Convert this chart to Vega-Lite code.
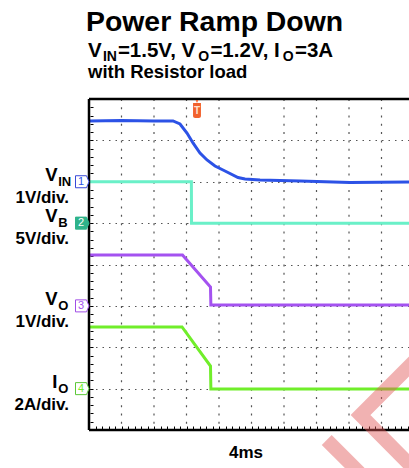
{
  "$schema": "https://vega.github.io/schema/vega-lite/v6.json",
  "width": 320,
  "height": 331,
  "autosize": {"type": "none"},
  "padding": {"left": 89, "top": 99, "right": 0, "bottom": 38},
  "background": "white",
  "config": {"view": {"stroke": null}, "font": "Liberation Sans", "text": {"font": "Liberation Sans"}},
  "data": {"values": [{}]},
  "datasets": {
    "traces": [
      {"ch": "1", "t": 0, "v": 7.47}, {"ch": "1", "t": 1, "v": 7.48}, {"ch": "1", "t": 2, "v": 7.47},
      {"ch": "1", "t": 2.585, "v": 7.47}, {"ch": "1", "t": 2.8, "v": 7.396}, {"ch": "1", "t": 3.015, "v": 7.178},
      {"ch": "1", "t": 3.2, "v": 6.937}, {"ch": "1", "t": 3.415, "v": 6.695}, {"ch": "1", "t": 3.631, "v": 6.526},
      {"ch": "1", "t": 3.877, "v": 6.381}, {"ch": "1", "t": 4.185, "v": 6.26}, {"ch": "1", "t": 4.585, "v": 6.103},
      {"ch": "1", "t": 4.8, "v": 6.066}, {"ch": "1", "t": 5.262, "v": 6.042}, {"ch": "1", "t": 6.492, "v": 6.018},
      {"ch": "1", "t": 8.031, "v": 5.982}, {"ch": "1", "t": 9.846, "v": 5.994},
      {"ch": "2", "t": 0, "v": 6.0}, {"ch": "2", "t": 3.15, "v": 6.0}, {"ch": "2", "t": 3.155, "v": 5.0}, {"ch": "2", "t": 9.846, "v": 5.0},
      {"ch": "3", "t": 0, "v": 4.23}, {"ch": "3", "t": 2.877, "v": 4.23}, {"ch": "3", "t": 3.738, "v": 3.456}, {"ch": "3", "t": 3.75, "v": 3.02}, {"ch": "3", "t": 9.846, "v": 3.02},
      {"ch": "4", "t": 0, "v": 2.49}, {"ch": "4", "t": 2.862, "v": 2.49}, {"ch": "4", "t": 3.738, "v": 1.547}, {"ch": "4", "t": 3.75, "v": 0.99}, {"ch": "4", "t": 9.846, "v": 0.99}
    ],
    "channels": [
      {"ch": "1", "name": "V", "sub": "IN", "perdiv": "1V/div.", "ground": 6},
      {"ch": "2", "name": "V", "sub": "B", "perdiv": "5V/div.", "ground": 5},
      {"ch": "3", "name": "V", "sub": "O", "perdiv": "1V/div.", "ground": 3},
      {"ch": "4", "name": "I", "sub": "O", "perdiv": "2A/div.", "ground": 1}
    ],
    "watermark": [
      {"part": "a", "i": 0, "t": 10.492, "v": 2.042},
      {"part": "a", "i": 1, "t": 8.354, "v": 0.3625},
      {"part": "a", "i": 2, "t": 10.185, "v": -1.088},
      {"part": "b", "i": 0, "t": 7.314, "v": -0.2417},
      {"part": "b", "i": 1, "t": 8.8, "v": -1.409}
    ]
  },
  "resolve": {"axis": {"x": "independent", "y": "independent"}},
  "layer": [
    {
      "data": {"name": "traces"},
      "mark": {"type": "line", "opacity": 0},
      "encoding": {
        "x": {
          "field": "t", "type": "quantitative", "title": null,
          "scale": {"domain": [0, 9.846], "nice": false, "zero": false},
          "axis": null
        },
        "y": {
          "field": "v", "type": "quantitative", "title": null,
          "scale": {"domain": [0, 8], "nice": false, "zero": false},
          "axis": {
            "orient": "right", "values": [0, 1, 2, 3, 4, 5, 6, 7, 8],
            "labels": false, "title": null, "domain": false, "ticks": false,
            "grid": true, "gridColor": "#555555", "gridWidth": 1, "gridDash": [1.5, 5], "gridOpacity": 1
          }
        },
        "detail": {"field": "ch", "type": "nominal"}
      }
    },
    {"mark": {"type": "rule", "color": "#555555", "strokeWidth": 1.2, "strokeDash": [2, 6.275]}, "encoding": {"x": {"datum": 1, "axis": null}}},
    {"mark": {"type": "rule", "color": "#555555", "strokeWidth": 1.2, "strokeDash": [2, 6.275]}, "encoding": {"x": {"datum": 2, "axis": null}}},
    {"mark": {"type": "rule", "color": "#555555", "strokeWidth": 1.2, "strokeDash": [2, 6.275]}, "encoding": {"x": {"datum": 3, "axis": null}}},
    {"mark": {"type": "rule", "color": "#555555", "strokeWidth": 1.2, "strokeDash": [2, 6.275]}, "encoding": {"x": {"datum": 4, "axis": null}}},
    {"mark": {"type": "rule", "color": "#555555", "strokeWidth": 1.2, "strokeDash": [2, 6.275]}, "encoding": {"x": {"datum": 5, "axis": null}}},
    {"mark": {"type": "rule", "color": "#555555", "strokeWidth": 1.2, "strokeDash": [2, 6.275]}, "encoding": {"x": {"datum": 6, "axis": null}}},
    {"mark": {"type": "rule", "color": "#555555", "strokeWidth": 1.2, "strokeDash": [2, 6.275]}, "encoding": {"x": {"datum": 7, "axis": null}}},
    {"mark": {"type": "rule", "color": "#555555", "strokeWidth": 1.2, "strokeDash": [2, 6.275]}, "encoding": {"x": {"datum": 8, "axis": null}}},
    {"mark": {"type": "rule", "color": "#555555", "strokeWidth": 1.2, "strokeDash": [2, 6.275]}, "encoding": {"x": {"datum": 9, "axis": null}}},
    {
      "data": {"name": "traces"},
      "mark": {"type": "line", "strokeWidth": 3},
      "encoding": {
        "x": {
          "field": "t", "type": "quantitative", "title": null,
          "axis": {
            "orient": "bottom",
            "values": [0.2,0.4,0.6,0.8,1,1.2,1.4,1.6,1.8,2,2.2,2.4,2.6,2.8,3,3.2,3.4,3.6,3.8,4,4.2,4.4,4.6,4.8,5,5.2,5.4,5.6,5.8,6,6.2,6.4,6.6,6.8,7,7.2,7.4,7.6,7.8,8,8.2,8.4,8.6,8.8,9,9.2,9.4,9.6,9.8],
            "labels": false, "title": null, "domain": false, "grid": false,
            "ticks": true, "tickColor": "#000000", "tickSize": 3, "tickWidth": 1, "offset": -4
          }
        },
        "y": {
          "field": "v", "type": "quantitative", "title": null,
          "axis": {
            "orient": "left",
            "values": [0.2,0.4,0.6,0.8,1,1.2,1.4,1.6,1.8,2,2.2,2.4,2.6,2.8,3,3.2,3.4,3.6,3.8,4,4.2,4.4,4.6,4.8,5,5.2,5.4,5.6,5.8,6,6.2,6.4,6.6,6.8,7,7.2,7.4,7.6,7.8],
            "labels": false, "title": null, "domain": false, "grid": false,
            "ticks": true, "tickColor": "#000000", "tickSize": 3, "tickWidth": 1, "offset": -4
          }
        },
        "color": {
          "field": "ch", "type": "nominal", "legend": null,
          "scale": {"domain": ["1", "2", "3", "4"], "range": ["#2c52e6", "#6af0c8", "#a452f0", "#70ee2a"]}
        }
      }
    },
    {
      "mark": {"type": "rule", "color": "#000000", "strokeWidth": 2.5},
      "encoding": {"y": {"datum": 8, "axis": null}}
    },
    {
      "mark": {"type": "rule", "color": "#000000", "strokeWidth": 2.5},
      "encoding": {"y": {"datum": 0, "axis": null}}
    },
    {
      "mark": {"type": "rule", "color": "#000000", "strokeWidth": 2.5},
      "encoding": {"x": {"datum": 0, "axis": null}}
    },
    {
      "data": {"name": "channels"},
      "mark": {"type": "point", "shape": "M-1,-0.89L0.63,-0.89L1,0L0.63,0.89L-1,0.89Z", "size": 182, "strokeWidth": 1, "opacity": 1, "filled": false},
      "encoding": {
        "x": {"datum": -0.2077, "axis": null},
        "y": {"field": "ground", "type": "quantitative", "title": null, "axis": null},
        "stroke": {"field": "ch", "type": "nominal", "legend": null,
          "scale": {"domain": ["1", "2", "3", "4"], "range": ["#3848d8", "#2fb38a", "#a04ee6", "#5cc838"]}},
        "fill": {"condition": {"test": "datum.ch === '2'", "value": "#2fb38a"}, "value": "#ffffff"}
      }
    },
    {
      "data": {"name": "channels"},
      "mark": {"type": "text", "fontSize": 11, "align": "center", "baseline": "middle"},
      "encoding": {
        "x": {"datum": -0.246, "axis": null},
        "y": {"field": "ground", "type": "quantitative", "title": null, "axis": null},
        "text": {"field": "ch"},
        "color": {"condition": {"test": "datum.ch === '2'", "value": "#ffffff"}, "field": "ch", "type": "nominal", "legend": null}
      }
    },
    {
      "data": {"name": "channels"},
      "mark": {"type": "text", "fontSize": 18.5, "fontWeight": "bold", "align": "right", "baseline": "alphabetic", "dx": -31.5, "dy": -1, "color": "#000000"},
      "encoding": {
        "x": {"datum": 0, "axis": null},
        "y": {"field": "ground", "type": "quantitative", "title": null, "axis": null},
        "text": {"field": "name"}
      }
    },
    {
      "data": {"name": "channels"},
      "mark": {"type": "text", "fontSize": 13, "fontWeight": "bold", "align": "left", "baseline": "alphabetic", "dx": -30.8, "dy": 4, "color": "#000000"},
      "encoding": {
        "x": {"datum": 0, "axis": null},
        "y": {"field": "ground", "type": "quantitative", "title": null, "axis": null},
        "text": {"field": "sub"}
      }
    },
    {
      "data": {"name": "channels"},
      "mark": {"type": "text", "fontSize": 17, "fontWeight": "bold", "align": "right", "baseline": "alphabetic", "dx": -20, "dy": 21, "color": "#000000"},
      "encoding": {
        "x": {"datum": 0, "axis": null},
        "y": {"field": "ground", "type": "quantitative", "title": null, "axis": null},
        "text": {"field": "perdiv"}
      }
    },
    {
      "mark": {"type": "point", "shape": "M-0.44,-0.67L0.44,-0.67L0.44,0.8Q0.44,1 0.2,1L-0.2,1Q-0.44,1 -0.44,0.8Z M-0.15,-1L0.15,-1L0,-0.67Z", "size": 324, "filled": true, "opacity": 1, "color": "#f2622e", "strokeWidth": 0},
      "encoding": {"x": {"datum": 3.323, "axis": null}, "y": {"datum": 7.758, "axis": null}}
    },
    {
      "mark": {"type": "text", "text": "T", "fontSize": 10, "fontWeight": "bold", "align": "center", "baseline": "middle", "color": "#ffe0d0"},
      "encoding": {"x": {"datum": 3.323, "axis": null}, "y": {"datum": 7.71, "axis": null}}
    },
    {
      "mark": {"type": "text", "text": "Power Ramp Down", "fontSize": 28.4, "fontWeight": "bold", "align": "left", "baseline": "alphabetic", "color": "#000000"},
      "encoding": {"x": {"datum": -0.092, "axis": null}, "y": {"datum": 9.632, "axis": null}}
    },
    {
      "mark": {"type": "text", "text": "V", "fontSize": 20.5, "fontWeight": "bold", "align": "left", "baseline": "alphabetic", "color": "#000000"},
      "encoding": {"x": {"datum": -0.0308, "axis": null}, "y": {"datum": 9.015, "axis": null}}
    },
    {
      "mark": {"type": "text", "text": "IN", "fontSize": 14, "fontWeight": "bold", "align": "left", "baseline": "alphabetic", "color": "#000000"},
      "encoding": {"x": {"datum": 0.4277, "axis": null}, "y": {"datum": 8.918, "axis": null}}
    },
    {
      "mark": {"type": "text", "text": "=1.5V, V", "fontSize": 20.5, "fontWeight": "bold", "align": "left", "baseline": "alphabetic", "color": "#000000"},
      "encoding": {"x": {"datum": 0.8892, "axis": null}, "y": {"datum": 9.015, "axis": null}}
    },
    {
      "mark": {"type": "text", "text": "O", "fontSize": 14, "fontWeight": "bold", "align": "left", "baseline": "alphabetic", "color": "#000000"},
      "encoding": {"x": {"datum": 3.3631, "axis": null}, "y": {"datum": 8.918, "axis": null}}
    },
    {
      "mark": {"type": "text", "text": "=1.2V, I", "fontSize": 20.5, "fontWeight": "bold", "align": "left", "baseline": "alphabetic", "color": "#000000"},
      "encoding": {"x": {"datum": 3.7354, "axis": null}, "y": {"datum": 9.015, "axis": null}}
    },
    {
      "mark": {"type": "text", "text": "O", "fontSize": 14, "fontWeight": "bold", "align": "left", "baseline": "alphabetic", "color": "#000000"},
      "encoding": {"x": {"datum": 5.9631, "axis": null}, "y": {"datum": 8.918, "axis": null}}
    },
    {
      "mark": {"type": "text", "text": "=3A", "fontSize": 20.5, "fontWeight": "bold", "align": "left", "baseline": "alphabetic", "color": "#000000"},
      "encoding": {"x": {"datum": 6.3354, "axis": null}, "y": {"datum": 9.015, "axis": null}}
    },
    {
      "mark": {"type": "text", "text": "with Resistor load", "fontSize": 18.5, "fontWeight": "bold", "align": "left", "baseline": "alphabetic", "color": "#000000"},
      "encoding": {"x": {"datum": -0.0308, "axis": null}, "y": {"datum": 8.508, "axis": null}}
    },
    {
      "mark": {"type": "text", "text": "4ms", "fontSize": 17, "fontWeight": "bold", "align": "center", "baseline": "alphabetic", "color": "#000000"},
      "encoding": {"x": {"datum": 4.83, "axis": null}, "y": {"datum": -0.677, "axis": null}}
    },
    {
      "data": {"name": "watermark"},
      "mark": {"type": "line", "strokeWidth": 14, "color": "#e05555", "opacity": 0.45, "strokeJoin": "miter", "strokeCap": "butt"},
      "encoding": {
        "x": {"field": "t", "type": "quantitative", "title": null, "axis": null},
        "y": {"field": "v", "type": "quantitative", "title": null, "axis": null},
        "detail": {"field": "part", "type": "nominal"},
        "order": {"field": "i", "type": "quantitative"}
      }
    }
  ]
}
